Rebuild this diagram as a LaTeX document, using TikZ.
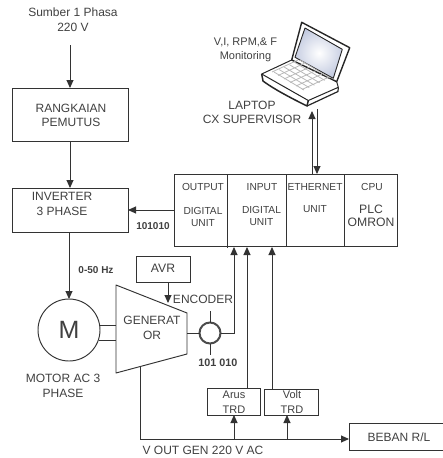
\documentclass[tikz,border=0pt]{standalone}
\usepackage{fontspec}
\setmainfont{Liberation Sans}
\usetikzlibrary{arrows.meta}
\definecolor{lapscreen}{RGB}{176,186,214}
\tikzset{
  x=1pt,y=-1pt,
  every node/.style={inner sep=0pt,outer sep=0pt,text=black!75},
  wire/.style={draw=black!80,line width=0.95pt},
  arr/.style={wire,-{Triangle[length=8pt,width=7pt]}},
  lbl/.style={font=\fontsize{12}{14.5}\selectfont,align=center},
  lbs/.style={font=\fontsize{10.2}{12}\selectfont,align=center},
  lba/.style={font=\fontsize{11}{14.5}\selectfont,align=center},
  lbm/.style={font=\fontsize{12.2}{13}\selectfont,align=center},
  lbb/.style={font=\fontsize{10}{12}\selectfont\bfseries,align=center},
}
\begin{document}
\begin{tikzpicture}
\useasboundingbox (0,0) rectangle (443,458);
% boxes
\node[wire,draw,minimum width=116pt,minimum height=53pt] (pemutus) at (70,114.5) {};
\node[wire,draw,minimum width=116pt,minimum height=44pt] (inverter) at (70,210) {};
\node[wire,draw,minimum width=223pt,minimum height=72pt] (plc) at (285.5,210) {};
\node[wire,draw,minimum width=54pt,minimum height=26pt] (avr) at (163,269) {};
\node[wire,draw,minimum width=53pt,minimum height=27pt] (arus) at (234,401.5) {};
\node[wire,draw,minimum width=54pt,minimum height=26pt] (volt) at (291,402) {};
\node[wire,draw,minimum width=100pt,minimum height=27pt] (beban) at (399,436.5) {};
\node[wire,draw,circle,minimum size=62pt] (motor) at (69,330) {};
\node[draw=black!70,line width=2pt,circle,minimum size=21pt] (enc) at (210,333) {};
% plc dividers
\draw[wire] (227,174) -- (227,247.5);
\draw[wire] (286,174) -- (286,246);
\draw[wire] (344,174) -- (344,246);
% generator
\coordinate (g1) at (116,285);
\coordinate (g2) at (187,313);
\coordinate (g3) at (187,354);
\coordinate (g4) at (116,373);
\draw[wire,line join=round] (g1) -- (g2) -- (g3) -- (g4) -- cycle;
% laptop
\coordinate (lap) at (312,111);
\coordinate (lapb) at (317,109);
\begin{scope}
\begin{scope}
\clip (305,28) -- (342.3,49.3) -- (333.3,78.3) -- (295,57.3) -- cycle;
\shade[inner color=white,outer color=lapscreen] (319,53) circle (34);
\end{scope}
\draw[black!85,line width=1.4pt,line join=round] (301.7,22.3) -- (349.7,47.7) -- (336.7,81.7) -- (291.7,60) -- cycle;
\draw[black!85,line width=0.9pt,line join=round] (305,28) -- (342.3,49.3) -- (333.3,78.3) -- (295,57.3) -- cycle;
\draw[black!85,line width=1pt,line join=round] (291.7,60) -- (261.7,74) -- (308.3,100.5) -- (338.3,87.3) -- (336.7,81.7);
\foreach \i in {0,...,5}{
  \draw[black!28,line width=0.8pt] ({274+\i*5.2},{72-\i*2.4}) -- ({304+\i*5.2},{90-\i*2.4});
}
\foreach \i in {0,...,5}{
  \draw[black!28,line width=0.8pt] ({272+\i*6},{72+\i*3.5}) -- ({298+\i*6},{60+\i*3.5});
}
\draw[black!85,line width=1.5pt,line join=round] (261.7,74) -- (263,81) .. controls (275,90) and (295,100) .. (307,106) -- (308.3,100.5);
\draw[black!85,line width=1.2pt,line join=round] (307,106) -- (338,91.5) -- (338.3,87.3);
\end{scope}
% connectors
\coordinate (src) at (70,45);
\draw[arr] (src) -- (70,88);
\draw[arr] (pemutus.south) -- (inverter.north);
\draw[arr] (174,210) -- (inverter.east);
\draw[arr] (69,232) -- (motor.north);
\draw[arr] (312,174) -- (lap);
\draw[arr] (lapb) -- (317,174);
\draw[arr] (168,282) -- (168,303);
\draw[wire] (99,325) -- (116,325);
\draw[wire] (99,340) -- (116,340);
\draw[wire] (187,333) -- (enc.west);
\draw[arr] (enc.east) -- (234,333) -- (234,247);
\draw[wire] (210,311) -- (enc.north);
\draw[wire] (enc.south) -- (210,355);
\draw[arr] (247,388) -- (247,247);
\draw[arr] (272,389) -- (272,247);
\coordinate (gout) at (140,367);
\draw[arr] (gout) -- (140,439) -- (beban.west |- 0,439);
\draw[arr] (234,439) -- (arus.south);
\draw[arr] (287,439) -- (287,415);
% labels
\node[lbl] (t0) at (73,19.5) {Sumber 1 Phasa\\220 V};
\node[lbl] (t1) at (71,115.5) {RANGKAIAN\\PEMUTUS};
\node[lbl] (t2) at (62,204) {INVERTER\\3 PHASE};
\node[lbb] (t3) at (153,226) {101010};
\node[lbb] (t4) at (96,270) {0-50 Hz};
\node[lbs] (t5) at (203,187) {OUTPUT};
\node[lbs] (t6) at (203,217) {DIGITAL\\UNIT};
\node[lbs] (t7) at (262,187) {INPUT};
\node[lbs] (t8) at (261.5,216) {DIGITAL\\UNIT};
\node[lbs] (t9) at (315,187) {ETHERNET};
\node[lbs] (t10) at (315,209) {UNIT};
\node[lbs] (t11) at (372,187) {CPU};
\node[lbm] (t12) at (371,215.5) {PLC\\OMRON};
\node[lbm] (t13) at (163,268) {AVR};
\node[lbl] (t14) at (203,299) {ENCODER};
\node[lbl] (t15) at (152,328) {GENERAT\\OR};
\node[font=\fontsize{25}{27}\selectfont] (t16) at (69,330) {M};
\node[lbb,font=\fontsize{10.8}{12}\selectfont\bfseries] (t17) at (218,363) {101 010};
\node[lbl] (t18) at (63,386) {MOTOR AC 3\\PHASE};
\node[lbl] (t19) at (203,450) {V OUT GEN 220 V AC};
\node[lba] (t20) at (245.5,50) {V,I, RPM,\& F\\Monitoring};
\node[lbl] (t21) at (252,112.5) {LAPTOP\\CX SUPERVISOR};
\node[lba] (t22) at (234,402) {Arus\\TRD};
\node[lba] (t23) at (292,402) {Volt\\TRD};
\node[lbl] (t24) at (399,437) {BEBAN R/L};
\end{tikzpicture}
\end{document}
